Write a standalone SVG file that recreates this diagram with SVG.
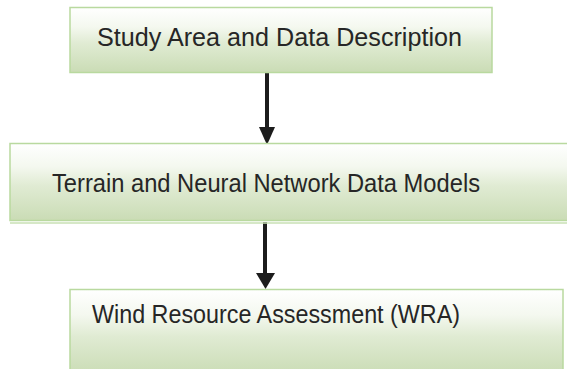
<svg xmlns="http://www.w3.org/2000/svg" width="567" height="369" viewBox="0 0 567 369">
  <defs>
    <linearGradient id="boxFill" x1="0" y1="0" x2="0" y2="1">
      <stop offset="0" stop-color="#ffffff"/>
      <stop offset="0.3" stop-color="#f4f8ef"/>
      <stop offset="0.55" stop-color="#e0ebd3"/>
      <stop offset="1" stop-color="#cadcb5"/>
    </linearGradient>
  </defs>
  <style>
    .box { fill: url(#boxFill); stroke: #b9d99f; stroke-width: 1.5; }
    .label { font-family: "Liberation Sans", Arial, sans-serif; font-size: 25px; fill: #262626; }
    .link { stroke: #1c1c1c; stroke-width: 4; fill: none; }
    .head { fill: #1c1c1c; }
  </style>

  <rect width="567" height="369" fill="#ffffff"/>

  <g id="connectors">
    <line class="link" x1="267" y1="73" x2="267" y2="128"/>
    <path class="head" d="M259,127 L275,127 L267,145 Z"/>
    <line class="link" x1="265" y1="222" x2="265" y2="274"/>
    <path class="head" d="M256,273 L275,273 L265.5,289 Z"/>
  </g>

  <g id="study-area">
    <rect class="box" x="70" y="7.5" width="422" height="65"/>
    <text class="label" x="97" y="46" textLength="365" lengthAdjust="spacingAndGlyphs">Study Area and Data Description</text>
  </g>

  <g id="terrain-models">
    <rect class="box" x="10" y="143.5" width="560" height="77"/>
    <line x1="10" y1="223" x2="570" y2="223" stroke="#c8e0b4" stroke-width="1.5"/>
    <text class="label" x="52" y="192" textLength="428" lengthAdjust="spacingAndGlyphs">Terrain and Neural Network Data Models</text>
  </g>

  <g id="wind-resource">
    <rect class="box" x="70" y="289.5" width="493" height="85"/>
    <text class="label" x="92" y="323" textLength="368" lengthAdjust="spacingAndGlyphs">Wind Resource Assessment (WRA)</text>
  </g>
</svg>
